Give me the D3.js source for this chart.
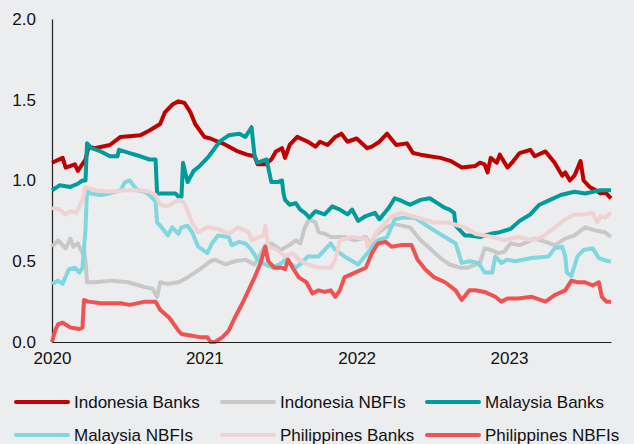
<!DOCTYPE html>
<html>
<head>
<meta charset="utf-8">
<script src="https://cdn.jsdelivr.net/npm/d3@7/dist/d3.min.js"></script>
<style>
  html, body { margin: 0; padding: 0; background: #ecedef; }
  svg { display: block; }
  text { font-family: "Liberation Sans", Arial, sans-serif; fill: #111; }
</style>
</head>
<body>
<svg id="chart" width="634" height="444"></svg>
<script>
// ---- data (time as decimal year, value = ratio) ----
const seriesNames = ["Indonesia Banks", "Indonesia NBFIs", "Malaysia Banks", "Malaysia NBFIs", "Philippines Banks", "Philippines NBFIs"];
const seriesColors = ["#c00000", "#c8c8c8", "#009b9b", "#7fd8e0", "#f0d2d2", "#ef5252"];
const xTickValues = [2020, 2021, 2022, 2023];
const yTickValues = [0, 0.5, 1.0, 1.5, 2.0];

const indonesiaBanks = [
  [2020.00,1.11],[2020.07,1.14],[2020.09,1.08],[2020.15,1.10],[2020.17,1.06],[2020.22,1.13],[2020.24,1.21],
  [2020.28,1.20],[2020.38,1.22],[2020.45,1.27],[2020.58,1.28],[2020.64,1.31],[2020.71,1.35],[2020.74,1.42],
  [2020.79,1.47],[2020.83,1.49],[2020.87,1.48],[2020.91,1.42],[2020.94,1.35],[2020.97,1.31],[2021.00,1.27],
  [2021.04,1.26],[2021.09,1.24],[2021.12,1.23],[2021.16,1.21],[2021.22,1.18],[2021.28,1.16],[2021.33,1.15],
  [2021.35,1.10],[2021.40,1.10],[2021.44,1.13],[2021.47,1.18],[2021.51,1.20],[2021.53,1.14],[2021.56,1.22],
  [2021.61,1.27],[2021.68,1.24],[2021.73,1.21],[2021.76,1.24],[2021.81,1.22],[2021.86,1.27],[2021.90,1.29],
  [2021.94,1.24],[2022.00,1.26],[2022.07,1.20],[2022.10,1.21],[2022.15,1.24],[2022.20,1.29],[2022.26,1.22],
  [2022.33,1.23],[2022.37,1.17],[2022.42,1.16],[2022.48,1.15],[2022.55,1.14],[2022.62,1.12],[2022.69,1.08],
  [2022.78,1.09],[2022.81,1.11],[2022.84,1.10],[2022.86,1.05],[2022.88,1.14],[2022.92,1.11],[2022.94,1.16],
  [2022.99,1.08],[2023.02,1.11],[2023.07,1.17],[2023.14,1.19],[2023.17,1.15],[2023.24,1.18],[2023.30,1.11],
  [2023.35,1.03],[2023.37,1.05],[2023.40,1.00],[2023.43,1.03],[2023.47,1.12],[2023.49,1.00],[2023.53,0.96],
  [2023.57,0.94],[2023.60,0.92],[2023.63,0.93],[2023.67,0.89]
];
const indonesiaNBFIs = [
  [2020.00,0.59],[2020.04,0.63],[2020.09,0.58],[2020.12,0.64],[2020.14,0.59],[2020.17,0.61],[2020.20,0.55],
  [2020.21,0.57],[2020.22,0.50],[2020.23,0.37],[2020.28,0.37],[2020.39,0.38],[2020.50,0.37],[2020.61,0.34],
  [2020.66,0.33],[2020.69,0.28],[2020.71,0.37],[2020.76,0.36],[2020.83,0.37],[2020.89,0.40],[2020.97,0.45],
  [2021.04,0.50],[2021.07,0.51],[2021.14,0.48],[2021.20,0.50],[2021.27,0.51],[2021.33,0.48],[2021.40,0.60],
  [2021.44,0.61],[2021.50,0.57],[2021.56,0.60],[2021.60,0.63],[2021.63,0.61],[2021.66,0.71],[2021.69,0.76],
  [2021.73,0.74],[2021.75,0.68],[2021.79,0.67],[2021.83,0.65],[2021.92,0.65],[2021.99,0.63],[2022.06,0.65],
  [2022.09,0.60],[2022.12,0.66],[2022.19,0.71],[2022.25,0.73],[2022.35,0.71],[2022.42,0.63],[2022.48,0.58],
  [2022.55,0.52],[2022.61,0.48],[2022.68,0.46],[2022.73,0.46],[2022.81,0.49],[2022.84,0.58],[2022.88,0.57],
  [2022.93,0.55],[2022.97,0.56],[2023.01,0.61],[2023.07,0.60],[2023.17,0.64],[2023.24,0.62],[2023.30,0.60],
  [2023.37,0.64],[2023.43,0.66],[2023.50,0.71],[2023.57,0.69],[2023.63,0.68],[2023.67,0.65]
];
const malaysiaBanks = [
  [2020.00,0.94],[2020.05,0.97],[2020.12,0.96],[2020.17,0.98],[2020.20,1.00],[2020.22,1.00],[2020.23,1.23],
  [2020.26,1.20],[2020.32,1.18],[2020.38,1.15],[2020.43,1.15],[2020.44,1.19],[2020.51,1.17],[2020.58,1.15],
  [2020.64,1.13],[2020.68,1.13],[2020.69,0.92],[2020.71,0.92],[2020.81,0.92],[2020.83,0.90],[2020.85,0.90],
  [2020.86,1.11],[2020.89,0.99],[2020.93,1.06],[2020.97,1.09],[2021.03,1.15],[2021.10,1.24],[2021.16,1.28],
  [2021.23,1.29],[2021.27,1.27],[2021.31,1.33],[2021.33,1.15],[2021.35,1.11],[2021.41,1.13],[2021.42,1.08],
  [2021.44,0.99],[2021.48,0.99],[2021.51,1.00],[2021.52,0.92],[2021.53,0.88],[2021.56,0.85],[2021.60,0.86],
  [2021.63,0.82],[2021.66,0.80],[2021.69,0.77],[2021.73,0.81],[2021.76,0.80],[2021.79,0.79],[2021.84,0.84],
  [2021.89,0.82],[2021.94,0.79],[2021.97,0.82],[2022.01,0.75],[2022.06,0.78],[2022.12,0.80],[2022.15,0.76],
  [2022.21,0.83],[2022.25,0.89],[2022.28,0.88],[2022.35,0.85],[2022.42,0.88],[2022.48,0.89],[2022.53,0.86],
  [2022.58,0.83],[2022.61,0.82],[2022.64,0.80],[2022.65,0.72],[2022.71,0.66],[2022.74,0.66],[2022.81,0.65],
  [2022.88,0.67],[2022.94,0.68],[2023.01,0.70],[2023.07,0.75],[2023.14,0.79],[2023.20,0.85],[2023.27,0.88],
  [2023.34,0.91],[2023.43,0.93],[2023.50,0.92],[2023.60,0.94],[2023.67,0.94]
];
const malaysiaNBFIs = [
  [2020.00,0.36],[2020.04,0.38],[2020.07,0.36],[2020.11,0.45],[2020.15,0.46],[2020.18,0.43],[2020.20,0.46],
  [2020.22,0.70],[2020.23,0.95],[2020.25,0.92],[2020.32,0.91],[2020.38,0.92],[2020.45,0.94],[2020.48,0.99],
  [2020.51,1.00],[2020.56,0.94],[2020.61,0.93],[2020.64,0.91],[2020.68,0.87],[2020.69,0.74],[2020.72,0.71],
  [2020.76,0.66],[2020.79,0.71],[2020.83,0.67],[2020.85,0.71],[2020.89,0.72],[2020.92,0.68],[2020.96,0.59],
  [2021.02,0.55],[2021.05,0.61],[2021.09,0.66],[2021.16,0.65],[2021.18,0.60],[2021.23,0.62],[2021.27,0.61],
  [2021.31,0.57],[2021.35,0.51],[2021.40,0.48],[2021.45,0.46],[2021.51,0.49],[2021.53,0.51],[2021.60,0.46],
  [2021.64,0.49],[2021.68,0.53],[2021.75,0.53],[2021.79,0.57],[2021.83,0.61],[2021.86,0.57],[2021.92,0.53],
  [2022.01,0.48],[2022.07,0.55],[2022.14,0.63],[2022.20,0.65],[2022.25,0.76],[2022.31,0.77],[2022.38,0.77],
  [2022.43,0.74],[2022.51,0.69],[2022.58,0.65],[2022.65,0.61],[2022.69,0.49],[2022.74,0.50],[2022.80,0.49],
  [2022.84,0.43],[2022.89,0.43],[2022.91,0.53],[2022.95,0.49],[2022.99,0.51],[2023.04,0.50],[2023.15,0.52],
  [2023.26,0.53],[2023.30,0.58],[2023.35,0.59],[2023.37,0.53],[2023.38,0.43],[2023.41,0.41],[2023.45,0.53],
  [2023.49,0.57],[2023.55,0.58],[2023.59,0.52],[2023.65,0.50],[2023.67,0.50]
];
const philippinesBanks = [
  [2020.00,0.83],[2020.05,0.82],[2020.09,0.79],[2020.12,0.81],[2020.16,0.80],[2020.20,0.88],[2020.22,0.96],
  [2020.28,0.94],[2020.38,0.93],[2020.48,0.94],[2020.58,0.94],[2020.64,0.93],[2020.68,0.91],[2020.71,0.85],
  [2020.76,0.84],[2020.81,0.87],[2020.84,0.88],[2020.87,0.86],[2020.92,0.74],[2020.96,0.68],[2021.02,0.71],
  [2021.09,0.70],[2021.16,0.67],[2021.22,0.71],[2021.29,0.68],[2021.31,0.63],[2021.39,0.66],[2021.40,0.72],
  [2021.42,0.59],[2021.48,0.57],[2021.53,0.53],[2021.58,0.55],[2021.62,0.51],[2021.68,0.48],[2021.75,0.46],
  [2021.83,0.46],[2021.86,0.51],[2021.89,0.63],[2021.97,0.65],[2022.06,0.64],[2022.07,0.59],[2022.14,0.69],
  [2022.23,0.78],[2022.29,0.80],[2022.40,0.77],[2022.51,0.74],[2022.60,0.74],[2022.67,0.72],[2022.71,0.71],
  [2022.78,0.67],[2022.89,0.65],[2022.97,0.63],[2023.06,0.65],[2023.15,0.63],[2023.22,0.65],[2023.26,0.68],
  [2023.37,0.76],[2023.43,0.79],[2023.50,0.79],[2023.55,0.80],[2023.58,0.74],[2023.60,0.78],[2023.63,0.77],
  [2023.67,0.80]
];
const philippinesNBFIs = [
  [2020.00,0.00],[2020.02,0.07],[2020.04,0.11],[2020.07,0.12],[2020.12,0.09],[2020.18,0.08],[2020.20,0.09],
  [2020.21,0.26],[2020.24,0.25],[2020.32,0.24],[2020.45,0.24],[2020.51,0.23],[2020.61,0.25],[2020.68,0.25],
  [2020.71,0.20],[2020.77,0.15],[2020.83,0.07],[2020.85,0.05],[2020.91,0.04],[2020.97,0.03],[2021.02,0.03],
  [2021.04,0.00],[2021.07,0.00],[2021.12,0.03],[2021.16,0.07],[2021.20,0.15],[2021.25,0.24],[2021.29,0.32],
  [2021.33,0.40],[2021.37,0.49],[2021.40,0.59],[2021.42,0.50],[2021.46,0.46],[2021.51,0.46],[2021.53,0.45],
  [2021.55,0.51],[2021.58,0.46],[2021.62,0.40],[2021.67,0.37],[2021.71,0.30],[2021.75,0.32],[2021.79,0.31],
  [2021.83,0.32],[2021.86,0.28],[2021.89,0.32],[2021.92,0.40],[2021.99,0.43],[2022.06,0.46],[2022.10,0.55],
  [2022.14,0.61],[2022.19,0.62],[2022.23,0.59],[2022.29,0.60],[2022.36,0.60],[2022.40,0.51],[2022.45,0.45],
  [2022.51,0.40],[2022.58,0.37],[2022.65,0.32],[2022.69,0.26],[2022.74,0.32],[2022.78,0.32],[2022.84,0.31],
  [2022.91,0.28],[2022.95,0.25],[2022.99,0.27],[2023.06,0.27],[2023.15,0.28],[2023.24,0.25],[2023.30,0.29],
  [2023.37,0.32],[2023.41,0.38],[2023.45,0.37],[2023.50,0.37],[2023.55,0.35],[2023.59,0.37],[2023.61,0.28],
  [2023.64,0.25],[2023.67,0.25]
];
const seriesValues = [indonesiaBanks, indonesiaNBFIs, malaysiaBanks, malaysiaNBFIs, philippinesBanks, philippinesNBFIs];

// ---- layout ----
const svg = d3.select("#chart");
const W = 634, H = 444;
svg.append("rect").attr("width", W).attr("height", H).attr("fill", "#ecedef");

const m = { left: 52, right: 23, top: 19, bottom: 102 };
const x = d3.scaleLinear().domain([2020, 2023.67]).range([m.left, W - m.right]);
const y = d3.scaleLinear().domain([0, 2]).range([H - m.bottom, m.top]);

// Y axis
const yAxis = d3.axisLeft(y).tickValues(yTickValues).tickFormat(d3.format(".1f")).tickSize(0).tickPadding(16);
const gy = svg.append("g").attr("transform", `translate(${m.left},0)`).call(yAxis);
gy.select(".domain").attr("stroke", "#222").attr("stroke-width", 1.2);
gy.selectAll("text").style("font-size", "17px").attr("fill", "#111")
  .style("font-family", "'Liberation Sans', Arial, sans-serif");

// lines
const line = d3.line().x(d => x(d[0])).y(d => y(d[1]));
svg.append("g").selectAll("path").data(seriesValues).join("path")
  .attr("d", line)
  .attr("fill", "none")
  .attr("stroke", (d, i) => seriesColors[i])
  .attr("stroke-width", 4)
  .attr("stroke-linejoin", "round")
  .attr("stroke-linecap", "butt");

// X axis
const xAxis = d3.axisBottom(x).tickValues(xTickValues).tickFormat(d3.format("d")).tickSize(0).tickPadding(10);
const gx = svg.append("g").attr("transform", `translate(0,${y(0)})`).call(xAxis);
gx.select(".domain").attr("stroke", "#222").attr("stroke-width", 1.2);
gx.selectAll("text").style("font-size", "17px").attr("fill", "#111")
  .style("font-family", "'Liberation Sans', Arial, sans-serif");

// legend
const colX = [16, 222, 427];
const rowY = [402, 435];
const lg = svg.append("g");
seriesNames.forEach((name, i) => {
  const cx = colX[i % 3], cy = rowY[Math.floor(i / 3)];
  lg.append("line").attr("x1", cx).attr("x2", cx + 52).attr("y1", cy).attr("y2", cy)
    .attr("stroke", seriesColors[i]).attr("stroke-width", 4).attr("stroke-linecap", "round");
  lg.append("text").attr("x", cx + 58).attr("y", cy).attr("dy", "0.35em")
    .style("font-size", "17px").text(name);
});
</script>
</body>
</html>
